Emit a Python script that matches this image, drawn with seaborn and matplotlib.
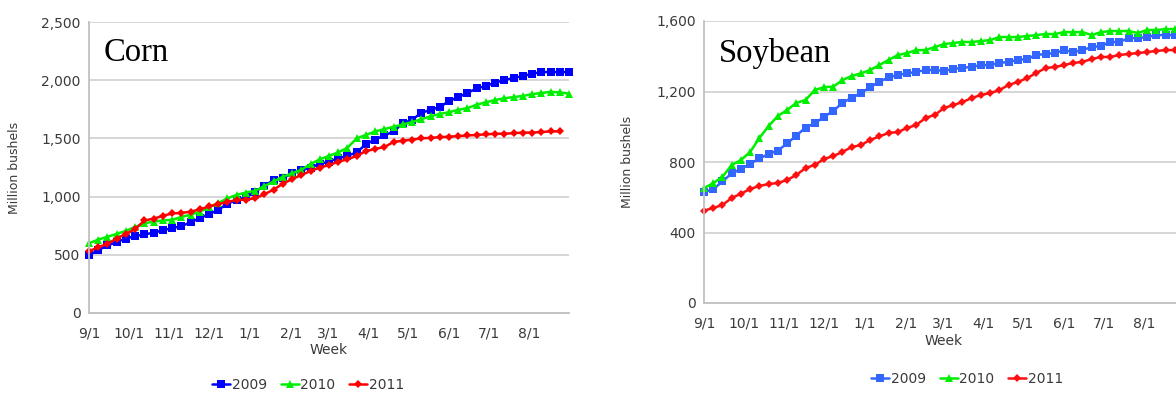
import matplotlib
matplotlib.use("Agg")
import matplotlib.pyplot as plt
import pandas as pd
import seaborn as sns

# Weekly cumulative export data (million bushels), marketing year starting 9/1
years = ["2009", "2010", "2011"]

corn_2009 = [495, 540, 580, 610, 640, 660, 675, 690, 710, 730, 745, 780, 815, 850,
             885, 940, 970, 995, 1040, 1095, 1140, 1160, 1200, 1225, 1250, 1280, 1300,
             1330, 1350, 1380, 1450, 1490, 1525, 1560, 1630, 1660, 1720, 1745, 1770,
             1820, 1855, 1890, 1930, 1950, 1980, 2000, 2020, 2035, 2055, 2070, 2070,
             2070, 2070]
corn_2010 = [600, 630, 655, 680, 705, 740, 770, 785, 795, 800, 825, 845, 870, 910,
             945, 985, 1015, 1035, 1050, 1090, 1130, 1170, 1200, 1230, 1280, 1320,
             1350, 1380, 1420, 1500, 1530, 1560, 1580, 1600, 1620, 1640, 1665, 1690,
             1710, 1725, 1745, 1760, 1790, 1810, 1830, 1845, 1855, 1865, 1880, 1890,
             1900, 1895, 1885]
corn_2011 = [530, 565, 595, 640, 680, 720, 795, 810, 835, 855, 860, 870, 890, 915,
             935, 955, 970, 975, 985, 1020, 1060, 1110, 1150, 1185, 1220, 1250, 1270,
             1300, 1320, 1350, 1390, 1410, 1425, 1470, 1480, 1490, 1500, 1505, 1510,
             1515, 1520, 1525, 1530, 1535, 1540, 1540, 1545, 1550, 1550, 1555, 1560,
             1560]

soy_2009 = [630, 645, 690, 735, 760, 790, 820, 845, 865, 905, 950, 995, 1020, 1055,
            1090, 1135, 1165, 1190, 1225, 1255, 1280, 1294, 1303, 1311, 1322, 1322,
            1317, 1328, 1334, 1340, 1350, 1350, 1362, 1368, 1379, 1384, 1407, 1413,
            1418, 1435, 1424, 1435, 1452, 1458, 1481, 1481, 1503, 1503, 1509, 1520,
            1520, 1520, 1525]
soy_2010 = [652, 680, 716, 783, 811, 857, 936, 1004, 1061, 1095, 1135, 1152, 1208,
            1225, 1227, 1265, 1288, 1303, 1322, 1350, 1379, 1407, 1418, 1435, 1435,
            1452, 1469, 1475, 1481, 1481, 1486, 1492, 1509, 1509, 1509, 1515, 1520,
            1526, 1526, 1537, 1537, 1537, 1520, 1537, 1543, 1543, 1543, 1532, 1549,
            1549, 1554, 1554, 1556]
soy_2011 = [524, 539, 556, 596, 620, 647, 664, 675, 681, 698, 726, 766, 783, 817,
            834, 857, 885, 896, 925, 945, 965, 970, 993, 1010, 1050, 1067, 1106, 1123,
            1140, 1163, 1180, 1191, 1208, 1237, 1254, 1276, 1305, 1333, 1339, 1350,
            1362, 1368, 1384, 1396, 1396, 1407, 1413, 1418, 1424, 1430, 1435, 1435,
            1438]

month_starts = pd.date_range("2010-09-01", "2011-08-01", freq="MS")
month_labels = [f"{d.month}/1" for d in month_starts]
month_pos = [(d - month_starts[0]).days / 7 for d in month_starts]

marker_map = {"2009": "s", "2010": "^", "2011": "D"}
marker_size = {"2009": 5.6, "2010": 5.8, "2011": 4.4}


def to_long(series):
    rows = []
    for year, vals in zip(years, series):
        for week, v in enumerate(vals):
            rows.append({"week": week, "value": v, "year": year})
    return pd.DataFrame(rows)


def draw_panel(ax, df, palette, yticks, title, title_y, ylab_x, xlab_y):
    sns.lineplot(data=df, x="week", y="value", hue="year", style="year",
                 markers=marker_map, markersize=5.5, dashes=False, palette=palette,
                 linewidth=1.8, markeredgewidth=0, clip_on=False, ax=ax)
    for line, year in zip(ax.lines, years):
        line.set_markersize(marker_size[year])
    ax.set_xlim(0, 52)
    ax.set_ylim(yticks[0], yticks[-1])
    ax.set_yticks(yticks)
    ax.set_yticklabels([f"{t:,}" for t in yticks])
    ax.set_xticks(month_pos)
    ax.set_xticklabels(month_labels)
    ax.set_xticks([52], minor=True)
    ax.yaxis.grid(True, color="#d6d6d6", linewidth=1.4)
    ax.xaxis.grid(False)
    ax.set_axisbelow(True)
    for s in ["top", "right"]:
        ax.spines[s].set_visible(False)
    for s in ["left", "bottom"]:
        ax.spines[s].set_color("#c0c0c0")
        ax.spines[s].set_linewidth(1.3)
    ax.tick_params(axis="x", which="both", length=4, width=1, color="#c0c0c0",
                   pad=6, labelsize=10, labelcolor="#3a3a3a")
    ax.tick_params(axis="y", length=3, width=1, color="#c0c0c0",
                   pad=3, labelsize=10, labelcolor="#3a3a3a")
    ax.set_ylabel("Million bushels", fontsize=9, color="#3a3a3a")
    ax.yaxis.set_label_coords(ylab_x, 0.5)
    ax.set_xlabel("Week", fontsize=10, color="#3a3a3a")
    ax.xaxis.set_label_coords(0.5, xlab_y)
    ax.text(0.03, title_y, title, transform=ax.transAxes, fontsize=23.5,
            family="Liberation Serif", color="black")
    handles, labels = ax.get_legend_handles_labels()
    for hnd, lab in zip(handles, labels):
        hnd.set_markersize(marker_size.get(lab, 5.5))
        hnd.set_markeredgewidth(0)
    ax.get_legend().remove()
    return handles, labels


sns.set_style("white")
plt.rcParams["font.family"] = ["DejaVu Sans"]

fig = plt.figure(figsize=(11.76, 3.93), dpi=100)
ax1 = fig.add_axes([89 / 1176, 80 / 393, 480 / 1176, 291 / 393])
ax2 = fig.add_axes([704 / 1176, 90 / 393, 480 / 1176, 282 / 393])

corn = to_long([corn_2009, corn_2010, corn_2011])
soy = to_long([soy_2009, soy_2010, soy_2011])

h1, l1 = draw_panel(ax1, corn, ["#0000ff", "#00ee00", "#ff0000"],
                    [0, 500, 1000, 1500, 2000, 2500], "Corn", 0.865, -0.103, -0.103)
h2, l2 = draw_panel(ax2, soy, ["#3366ff", "#00ee00", "#ff1010"],
                    [0, 400, 800, 1200, 1600], "Soybean", 0.855, -0.108, -0.11)
ax1.yaxis.set_label_coords(-0.142, 0.5)
ax2.yaxis.set_label_coords(-0.146, 0.5)

for handles, labels, cx, cy in [(h1, l1, 308 / 1176, 8 / 393), (h2, l2, 967 / 1176, 14 / 393)]:
    fig.legend(handles, labels, loc="center", bbox_to_anchor=(cx, cy), ncol=3,
               frameon=False, fontsize=10, handlelength=1.3, handletextpad=0.1,
               columnspacing=1.0, labelcolor="#3a3a3a")

fig.savefig("out.png", dpi=100)
